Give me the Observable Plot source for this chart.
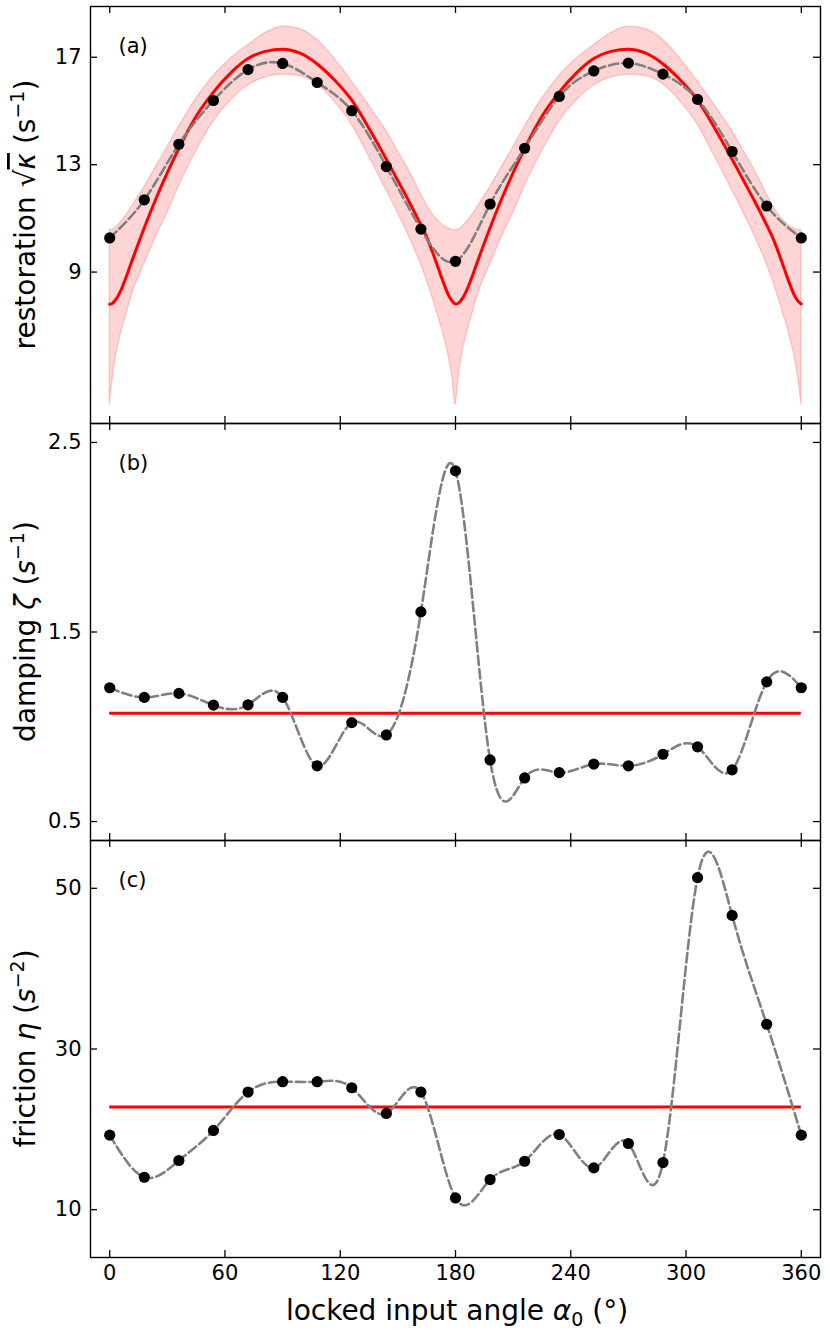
<!DOCTYPE html>
<html><head><meta charset="utf-8">
<script src="https://cdn.jsdelivr.net/npm/d3@7"></script>
<script src="https://cdn.jsdelivr.net/npm/@observablehq/plot@0.6"></script>
<style>
body{margin:0;background:#fff;}
#chart svg{display:block;overflow:visible;background:none;}
</style></head><body><div id="chart"></div>
<script>
// measured angles (deg)
const angles = [0,18,36,54,72,90,108,126,144,162,180,198,216,234,252,270,288,306,324,342,360];
// measured values
const restoration = [10.27,11.69,13.76,15.39,16.54,16.77,16.06,15.01,12.93,10.60,9.40,11.53,13.61,15.54,16.49,16.78,16.37,15.43,13.49,11.46,10.27];
const damping = [1.206,1.155,1.176,1.114,1.116,1.155,0.794,1.022,0.957,1.606,2.35,0.825,0.730,0.758,0.803,0.794,0.855,0.894,0.773,1.237,1.206];
const friction = [19.28,14.04,16.12,19.86,24.64,25.93,25.93,25.18,21.98,24.64,11.46,13.75,16.03,19.36,15.20,18.24,15.87,51.33,46.63,33.08,19.28];
// model values
const dampingModel = 1.072;
const frictionModel = 22.77;
// model curve and band for restoration
const modelAngles = [0,1.5,3,6,9,12,15,18,24,30,36,45,54,63,72,81,90,
  99,108,117,126,135,144,150,156,162,165,168,171,174,177,178.5,180,
  181.5,183,186,189,192,195,198,204,210,216,225,234,243,252,261,270,
  279,288,297,306,315,324,330,336,342,345,348,351,354,357,358.5,360];
const modelMid = [7.8,7.84,7.96,8.35,8.9,9.5,10.08,10.65,11.72,12.7,13.6,14.8,15.7,16.42,16.95,17.22,17.3,
  17.15,16.75,16.15,15.4,14.35,13.2,12.4,11.6,10.75,10.3,9.75,9.15,8.55,8.05,7.9,7.81,
  7.84,7.96,8.35,8.9,9.5,10.08,10.65,11.72,12.7,13.6,14.8,15.7,16.42,16.95,17.22,17.3,
  17.15,16.75,16.15,15.4,14.35,13.2,12.4,11.6,10.75,10.3,9.75,9.15,8.55,8.05,7.9,7.81];
const modelHigh = [10.56,10.58,10.64,10.88,11.15,11.48,11.82,12.16,12.9,13.65,14.4,15.45,16.3,16.95,17.45,17.9,18.14,
  18.05,17.65,16.95,16.1,15.2,14.25,13.5,12.75,11.9,11.5,11.15,10.9,10.72,10.6,10.57,10.56,
  10.58,10.64,10.88,11.15,11.48,11.82,12.16,12.9,13.65,14.4,15.45,16.3,16.95,17.45,17.9,18.14,
  18.05,17.65,16.95,16.1,15.2,14.25,13.5,12.75,11.9,11.5,11.15,10.9,10.72,10.6,10.57,10.56];
const modelLow = [4.05,5.0,5.75,6.75,7.5,8.25,8.8,9.3,10.3,11.2,12.2,13.5,14.6,15.4,15.95,16.25,16.35,
  16.3,16.0,15.35,14.5,13.3,12.05,11.2,10.3,9.3,8.7,8.05,7.35,6.6,5.65,5.0,4.05,
  5.0,5.75,6.75,7.5,8.25,8.8,9.3,10.3,11.2,12.2,13.5,14.6,15.4,15.95,16.25,16.35,
  16.3,16.0,15.35,14.5,13.3,12.05,11.2,10.3,9.3,8.7,8.05,7.35,6.6,5.65,5.0,4.05];
// ticks
const xTicks = [0,60,120,180,240,300,360];
const yTicksA = [9,13,17];
const yTicksB = [0.5,1.5,2.5];
const yTicksC = [10,30,50];

const W = 830, ML = 90, MR = 10;
const xDomain = [-10, 370];
const FONT = "DejaVu Sans";

const pts = (vals) => angles.map((a, i) => ({x: a, y: vals[i]}));
const band = modelAngles.map((a, i) => ({x: a, mid: modelMid[i], lo: modelLow[i], hi: modelHigh[i]}));

function frameMarks(yTicks, innerH) {
  const innerW = W - ML - MR, t = 7, sw = 1.3;
  return [
    Plot.tickY(yTicks, {y: d => d, stroke: "black", strokeWidth: sw, insetRight: innerW - t}),
    Plot.tickY(yTicks, {y: d => d, stroke: "black", strokeWidth: sw, insetLeft: innerW - t}),
    Plot.tickX(xTicks, {x: d => d, stroke: "black", strokeWidth: sw, insetBottom: innerH - t}),
    Plot.tickX(xTicks, {x: d => d, stroke: "black", strokeWidth: sw, insetTop: innerH - t}),
    Plot.frame({stroke: "black", strokeWidth: 1.4}),
    Plot.axisY(yTicks, {tickSize: 0, tickPadding: 9, fontSize: 21, label: null})
  ];
}
function dataMarks(vals) {
  return [
    Plot.line(pts(vals), {x: "x", y: "y", curve: "natural", stroke: "#808080", strokeWidth: 2.6, strokeDasharray: "9.5,4"}),
    Plot.dot(pts(vals), {x: "x", y: "y", r: 5.6, fill: "black", stroke: "none"})
  ];
}
function letter(s) {
  return Plot.text([s], {text: d => d, frameAnchor: "top-left", dx: 28, dy: 40, lineAnchor: "middle", textAnchor: "start", fontSize: 21});
}

const plotA = Plot.plot({
  width: W, height: 423, marginLeft: ML, marginRight: MR, marginTop: 6, marginBottom: 0,
  style: {fontFamily: FONT, fontSize: "21px", color: "black"},
  x: {domain: xDomain, axis: null},
  y: {domain: [3.36, 18.89]},
  marks: [
    Plot.areaY(band, {x: "x", y1: "lo", y2: "hi", curve: "monotone-x", fill: "#ff0000", fillOpacity: 0.17, stroke: "#ff0000", strokeOpacity: 0.2, strokeWidth: 1.2}),
    Plot.line(band, {x: "x", y: "mid", curve: "monotone-x", stroke: "#ff0000", strokeWidth: 3}),
    ...dataMarks(restoration),
    letter("(a)"),
    ...frameMarks(yTicksA, 417)
  ]
});

const plotB = Plot.plot({
  width: W, height: 417, marginLeft: ML, marginRight: MR, marginTop: 0, marginBottom: 0,
  style: {fontFamily: FONT, fontSize: "21px", color: "black"},
  x: {domain: xDomain, axis: null},
  y: {domain: [0.4, 2.6]},
  marks: [
    Plot.ruleY([dampingModel], {x1: angles[0], x2: angles[angles.length - 1], stroke: "#ff0000", strokeWidth: 3}),
    ...dataMarks(damping),
    letter("(b)"),
    ...frameMarks(yTicksB, 417)
  ]
});

const plotC = Plot.plot({
  width: W, height: 504, marginLeft: ML, marginRight: MR, marginTop: 0, marginBottom: 87,
  style: {fontFamily: FONT, fontSize: "21px", color: "black"},
  x: {domain: xDomain},
  y: {domain: [4.05, 55.95]},
  marks: [
    Plot.ruleY([frictionModel], {x1: angles[0], x2: angles[angles.length - 1], stroke: "#ff0000", strokeWidth: 3}),
    ...dataMarks(friction),
    letter("(c)"),
    ...frameMarks(yTicksC, 417),
    Plot.axisX(xTicks, {tickSize: 0, tickPadding: 8, fontSize: 21, label: null})
  ]
});

const chart = document.getElementById("chart");
chart.append(plotA, plotB, plotC);

function addLabel(svg, x, y, rotate, parts, size) {
  const t = d3.select(svg).append("text")
    .attr("transform", `translate(${x},${y}) rotate(${rotate})`)
    .attr("text-anchor", "middle")
    .attr("font-family", FONT)
    .attr("font-size", size)
    .attr("fill", "black");
  for (const p of parts) {
    const s = t.append("tspan").text(p.t);
    if (p.i) s.attr("font-style", "italic");
    if (p.dy) s.attr("dy", p.dy);
    if (p.fs) s.attr("font-size", p.fs);
    if (p.o) s.attr("text-decoration", "overline");
  }
}
const LS = 28;
addLabel(plotA, 35, 214.5, -90, [
  {t: "restoration "}, {t: "√"}, {t: "κ", i: true, o: true}, {t: " (s"},
  {t: "−1", dy: -11, fs: 19}, {t: ")", dy: 11}
], LS);
addLabel(plotB, 35, 208.5, -90, [
  {t: "damping "}, {t: "ζ", i: true}, {t: " ("}, {t: "s", i: true},
  {t: "−1", dy: -11, fs: 19}, {t: ")", dy: 11}
], LS);
addLabel(plotC, 35, 208.5, -90, [
  {t: "friction "}, {t: "η", i: true}, {t: " ("}, {t: "s", i: true},
  {t: "−2", dy: -11, fs: 19}, {t: ")", dy: 11}
], LS);
addLabel(plotC, 457, 480, 0, [
  {t: "locked input angle "}, {t: "α", i: true}, {t: "0", dy: 6, fs: 19}, {t: " (°)", dy: -6}
], LS);
</script></body></html>
